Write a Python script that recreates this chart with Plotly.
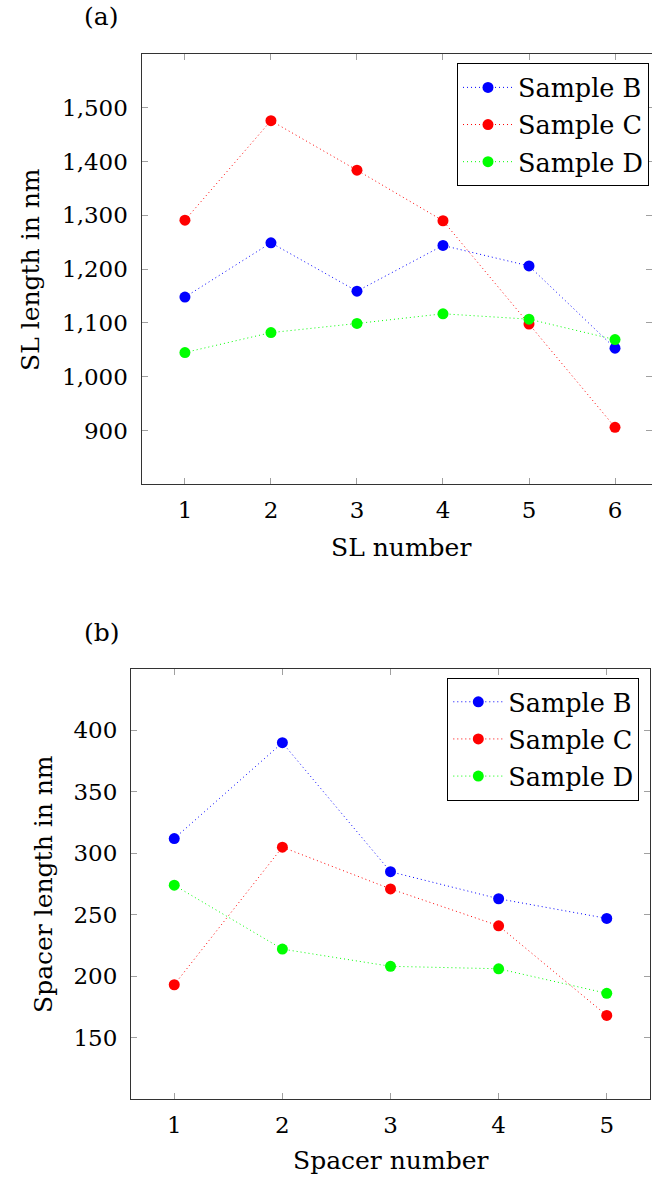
import plotly.graph_objects as go

# ---- data: panel (a) ----
sl_number = [1, 2, 3, 4, 5, 6]
sl_sample_b = [1148, 1249, 1159, 1244, 1206, 1053]
sl_sample_c = [1291, 1476, 1384, 1290, 1098, 906]
sl_sample_d = [1045, 1082, 1099, 1117, 1107, 1069]
sl_yticks = [900, 1000, 1100, 1200, 1300, 1400, 1500]

# ---- data: panel (b) ----
spacer_number = [1, 2, 3, 4, 5]
sp_sample_b = [312, 390, 285, 263, 247]
sp_sample_c = [193, 305, 271, 241, 168]
sp_sample_d = [274, 222, 208, 206, 186]
sp_yticks = [150, 200, 250, 300, 350, 400]

series_names = ["Sample B", "Sample C", "Sample D"]
colors = ["#0000ff", "#ff0000", "#00ff00"]

W, H = 652, 1179
FONT = "DejaVu Serif"

fig = go.Figure()

for name, ys, col in zip(series_names, [sl_sample_b, sl_sample_c, sl_sample_d], colors):
    fig.add_trace(go.Scatter(
        x=sl_number, y=ys, name=name, mode="lines+markers",
        line=dict(color=col, width=1, dash="1px,3px"),
        marker=dict(color=col, size=11, line=dict(width=0)),
        xaxis="x", yaxis="y", legend="legend", legendgroup="a" + name,
    ))

for name, ys, col in zip(series_names, [sp_sample_b, sp_sample_c, sp_sample_d], colors):
    fig.add_trace(go.Scatter(
        x=spacer_number, y=ys, name=name, mode="lines+markers",
        line=dict(color=col, width=1, dash="1px,3px"),
        marker=dict(color=col, size=11, line=dict(width=0)),
        xaxis="x2", yaxis="y2", legend="legend2", legendgroup="b" + name,
    ))

axis_common = dict(
    showgrid=False, zeroline=False, showline=True, linecolor="#333333", linewidth=1,
    mirror="ticks", ticks="inside", ticklen=6, tickwidth=1, tickcolor="#a0a0a0",
    tickfont=dict(family=FONT, size=23, color="black"),
)

top_dom = [1 - 484.3 / H, 1 - 54 / H]
bot_dom = [1 - 1099 / H, 1 - 669 / H]

legend_common = dict(
    bgcolor="white", bordercolor="black", borderwidth=1,
    font=dict(family=FONT, size=25.5, color="black"),
    xanchor="right", yanchor="top", traceorder="grouped", tracegroupgap=1,
    itemwidth=50,
)

fig.update_layout(
    width=W, height=H,
    margin=dict(l=0, r=0, t=0, b=0),
    paper_bgcolor="white", plot_bgcolor="white",
    font=dict(family=FONT, color="black"),
    xaxis=dict(domain=[141.5 / W, 1.0], range=[0.495, 6.43], tickvals=sl_number,
               anchor="y", ticklabelstandoff=5, **axis_common),
    yaxis=dict(domain=top_dom, range=[800, 1600], tickvals=sl_yticks, tickformat=",d",
               anchor="x", ticklabelstandoff=8, **axis_common),
    xaxis2=dict(domain=[131 / W, 650 / W], range=[0.6, 5.4], tickvals=spacer_number,
                anchor="y2", ticklabelstandoff=5, **axis_common),
    yaxis2=dict(domain=bot_dom, range=[100, 450], tickvals=sp_yticks,
                anchor="x2", ticklabelstandoff=8, **axis_common),
    legend=dict(x=649 / W, y=1 - 63.3 / H, **legend_common),
    legend2=dict(x=639.3 / W, y=1 - 677.7 / H, **legend_common),
    showlegend=True,
)

ann_font = dict(family=FONT, size=25, color="black")
annotations = [
    dict(text="(a)", x=101 / W, y=1 - 17 / H),
    dict(text="(b)", x=102 / W, y=1 - 632 / H),
    dict(text="SL number", x=401 / W, y=1 - 547 / H),
    dict(text="Spacer number", x=390 / W, y=1 - 1160 / H),
    dict(text="SL length in nm", x=31 / W, y=1 - 270 / H, textangle=-90),
    dict(text="Spacer length in nm", x=43 / W, y=1 - 884 / H, textangle=-90),
]
for a in annotations:
    fig.add_annotation(xref="paper", yref="paper", showarrow=False,
                       xanchor="center", yanchor="middle", font=ann_font, **a)

fig.write_html("out.html")
